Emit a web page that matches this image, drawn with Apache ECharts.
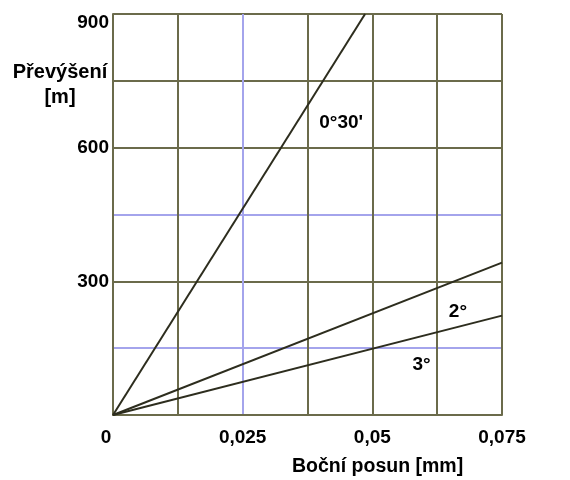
<!DOCTYPE html>
<html>
<head>
<meta charset="utf-8">
<script src="https://cdn.jsdelivr.net/npm/echarts@6/dist/echarts.min.js"></script>
<style>
    html, body {margin: 0; padding: 0; background: #fff;}
    #main {width: 570px; height: 480px;}
</style>
</head>
<body>
<div id="main"></div>
<script>
    // lines start at the origin, end points
    var lineNames = ["0°30'", '2°', '3°'];
    var lineEndX = [0.0486, 0.075, 0.075];
    var lineEndY = [900, 342, 223];

    // where each line's label sits
    var labelX = [0.0440, 0.0665, 0.0595];
    var labelY = [655, 231, 112];

    var xTicks = [0, 0.025, 0.05, 0.075];
    var xTickText = ['0', '0,025', '0,05', '0,075'];
    var yTicks = [300, 600, 900];

    var olive = '#6b6b4b';
    var blue = '#a4a4ec';
    var font = 'Liberation Sans, Arial, sans-serif';
    var fs = 19;

    var chart = echarts.init(document.getElementById('main'));

    var series = lineNames.map(function (name, i) {
        return {
            name: name, type: 'line', showSymbol: false, silent: true,
            lineStyle: {color: '#2d2d1e', width: 2},
            data: [[0, 0], [lineEndX[i], lineEndY[i]]],
            markPoint: {
                symbol: 'circle', symbolSize: 0,
                label: {show: true, position: 'inside', formatter: name, color: '#000',
                    fontFamily: font, fontWeight: 'bold', fontSize: fs},
                data: [{coord: [labelX[i], labelY[i]]}]
            }
        };
    });

    chart.setOption({
        animation: false,
        grid: {left: 113, right: 68, top: 14, bottom: 65},
        xAxis: {
            type: 'value', min: 0, max: 0.075, interval: 0.0125,
            axisLine: {show: true, lineStyle: {color: olive, width: 2}},
            axisTick: {show: false},
            axisLabel: {
                margin: 13, color: '#000', fontFamily: font, fontWeight: 'bold', fontSize: fs,
                formatter: function (v) {
                    for (var k = 0; k < xTicks.length; k++) {
                        if (Math.abs(v - xTicks[k]) < 1e-9) {
                            return k === 0 ? '{z|' + xTickText[k] + '}' : xTickText[k];
                        }
                    }
                    return '';
                },
                rich: {z: {padding: [0, 14, 0, 0], fontFamily: font, fontWeight: 'bold', fontSize: fs, color: '#000'}}
            },
            splitLine: {show: true, lineStyle: {width: 2, color: [blue, olive, blue, olive, olive, olive, olive]}}
        },
        yAxis: {
            type: 'value', min: 0, max: 900, interval: 150,
            axisLine: {show: true, lineStyle: {color: olive, width: 2}},
            axisTick: {show: false},
            axisLabel: {
                margin: 4, color: '#000', fontFamily: font, fontWeight: 'bold', fontSize: fs,
                formatter: function (v) {
                    if (yTicks.indexOf(v) < 0) return '';
                    return v === 900 ? '{t|' + v + '}' : String(v);
                },
                rich: {t: {padding: [18, 0, 0, 0], fontFamily: font, fontWeight: 'bold', fontSize: fs, color: '#000'}}
            },
            splitLine: {show: true, lineStyle: {width: 2, color: [blue, blue, olive, blue, olive, olive, olive]}}
        },
        graphic: [
            {type: 'text', x: 60, y: 60, style: {text: 'Převýšení\n[m]', align: 'center', textAlign: 'center',
                font: 'bold 20px Liberation Sans', lineHeight: 25, fill: '#000'}},
            {type: 'text', x: 292, y: 457, style: {text: 'Boční posun [mm]',
                font: 'bold 19.5px Liberation Sans', fill: '#000'}}
        ],
        series: series
    });
</script>
</body>
</html>
